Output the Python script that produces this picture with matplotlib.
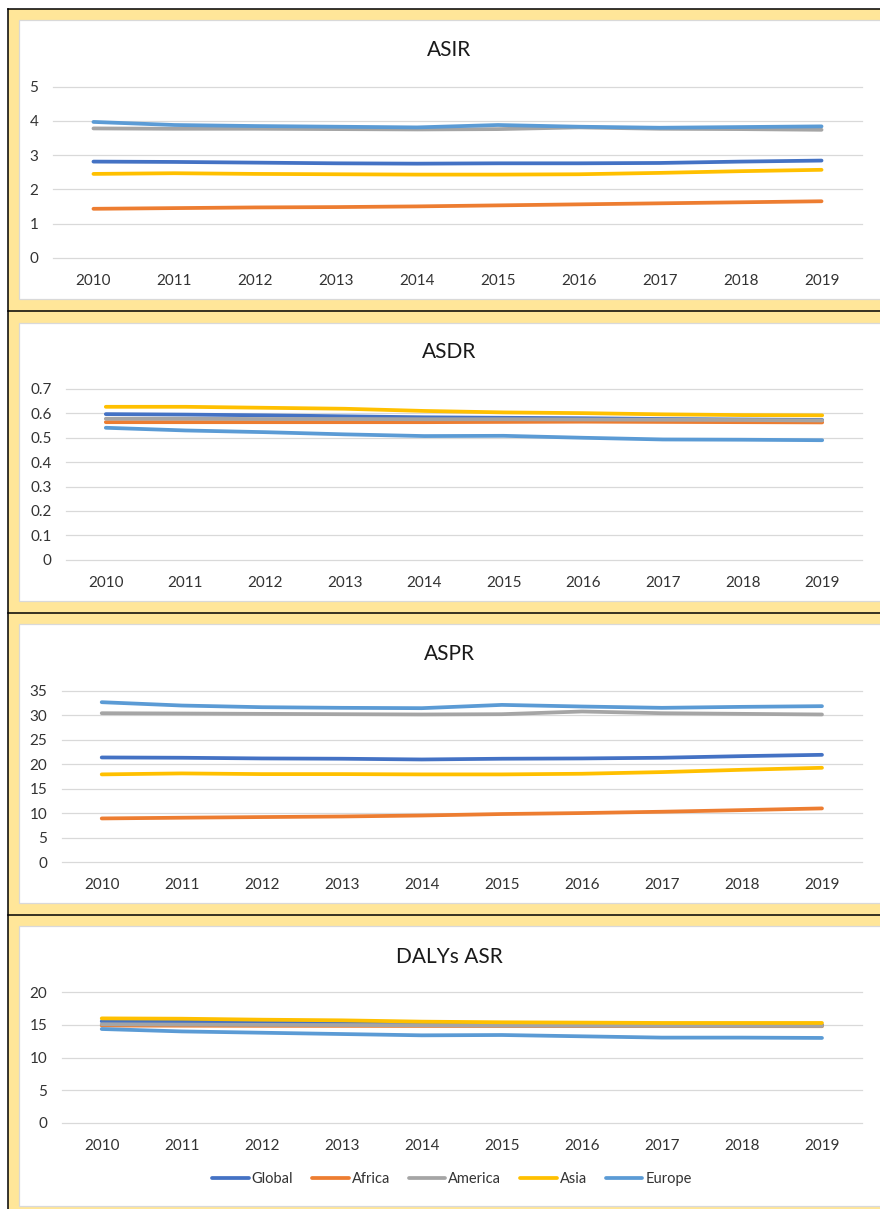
import matplotlib
matplotlib.use("Agg")
import matplotlib.pyplot as plt
from matplotlib.patches import Rectangle
from matplotlib.lines import Line2D
from matplotlib.ticker import FuncFormatter
import numpy as np

plt.rcParams['font.family'] = ['Lato', 'DejaVu Sans']

years = ["2010", "2011", "2012", "2013", "2014", "2015", "2016", "2017", "2018", "2019"]
regions = ["Global", "Africa", "America", "Asia", "Europe"]
colors = ["#4472C4", "#ED7D31", "#A5A5A5", "#FFC000", "#5B9BD5"]

asir_global = [2.81, 2.80, 2.78, 2.76, 2.75, 2.76, 2.76, 2.77, 2.81, 2.84]
asir_africa = [1.43, 1.45, 1.47, 1.48, 1.50, 1.53, 1.56, 1.59, 1.62, 1.65]
asir_america = [3.78, 3.77, 3.77, 3.76, 3.75, 3.76, 3.81, 3.77, 3.76, 3.74]
asir_asia = [2.45, 2.47, 2.45, 2.44, 2.43, 2.43, 2.44, 2.48, 2.53, 2.57]
asir_europe = [3.97, 3.88, 3.85, 3.83, 3.81, 3.88, 3.83, 3.80, 3.82, 3.84]

asdr_global = [0.597, 0.595, 0.592, 0.588, 0.584, 0.582, 0.580, 0.577, 0.575, 0.573]
asdr_africa = [0.564, 0.564, 0.564, 0.564, 0.564, 0.565, 0.566, 0.565, 0.564, 0.563]
asdr_america = [0.578, 0.578, 0.577, 0.577, 0.576, 0.576, 0.575, 0.574, 0.573, 0.571]
asdr_asia = [0.627, 0.627, 0.623, 0.619, 0.610, 0.604, 0.601, 0.596, 0.593, 0.592]
asdr_europe = [0.541, 0.530, 0.523, 0.514, 0.507, 0.508, 0.500, 0.493, 0.492, 0.490]

aspr_global = [21.36, 21.30, 21.16, 21.10, 20.95, 21.10, 21.16, 21.30, 21.63, 21.90]
aspr_africa = [8.90, 9.05, 9.18, 9.30, 9.50, 9.80, 10.00, 10.27, 10.60, 10.95]
aspr_america = [30.40, 30.34, 30.27, 30.20, 30.14, 30.20, 30.75, 30.40, 30.27, 30.14]
aspr_asia = [17.90, 18.10, 17.96, 17.96, 17.90, 17.90, 18.03, 18.37, 18.84, 19.25]
aspr_europe = [32.65, 31.97, 31.63, 31.50, 31.43, 32.10, 31.77, 31.50, 31.70, 31.84]

dalys_global = [15.55, 15.50, 15.45, 15.35, 15.25, 15.20, 15.15, 15.10, 15.05, 15.00]
dalys_africa = [14.90, 14.88, 14.86, 14.85, 14.84, 14.83, 14.82, 14.82, 14.81, 14.80]
dalys_america = [15.10, 15.05, 15.00, 14.98, 14.95, 14.90, 14.88, 14.86, 14.85, 14.83]
dalys_asia = [16.00, 15.95, 15.80, 15.70, 15.50, 15.40, 15.35, 15.30, 15.30, 15.30]
dalys_europe = [14.37, 14.00, 13.80, 13.60, 13.40, 13.45, 13.25, 13.05, 13.05, 13.00]

panels = [
    ("ASIR", [asir_global, asir_africa, asir_america, asir_asia, asir_europe], 5, 1),
    ("ASDR", [asdr_global, asdr_africa, asdr_america, asdr_asia, asdr_europe], 0.7, 0.1),
    ("ASPR", [aspr_global, aspr_africa, aspr_america, aspr_asia, aspr_europe], 35, 5),
    ("DALYs ASR", [dalys_global, dalys_africa, dalys_america, dalys_asia, dalys_europe], 20, 5),
]

W, H = 880, 1209
fig = plt.figure(figsize=(W / 100, H / 100), dpi=100)
fig.patch.set_facecolor("white")

def fx(x):
    return x / W

def fy(y):
    return 1 - y / H

# yellow frame with black separators
fig.add_artist(Rectangle((fx(8), fy(H + 5)), fx(W - 8 + 5), (H + 5 - 9) / H,
                         transform=fig.transFigure, facecolor="#FFE699",
                         edgecolor="none", zorder=0))
for y in [9, 311, 613, 915]:
    fig.add_artist(Line2D([fx(8), 1.01], [fy(y), fy(y)], transform=fig.transFigure,
                          color="black", lw=1.1, zorder=1))
fig.add_artist(Line2D([fx(8), fx(8)], [fy(9), fy(H + 5)], transform=fig.transFigure,
                      color="black", lw=1.1, zorder=1))

# white chart areas
chart_bounds = [(20, 299), (322.7, 601), (624, 903), (926, 1205.6)]
for top, bot in chart_bounds:
    fig.add_artist(Rectangle((fx(19), fy(bot)), fx(W + 5 - 19), (bot - top) / H,
                             transform=fig.transFigure, facecolor="white",
                             edgecolor="#D9D9D9", lw=0.9, zorder=1))

# plot areas: left px, top gridline px, zero gridline px
plot_boxes = [(53, 86.7, 257.7), (66, 389, 559.7), (61.7, 690.7, 862), (61.7, 992.3, 1122.7)]
title_y = [50, 352, 654, 956.7]
right_px = 862
text_color = "#333333"

x = list(range(len(years)))
handles = []
for (title, series, ymax, step), (lpx, tpx, bpx), ty in zip(panels, plot_boxes, title_y):
    ax = fig.add_axes([fx(lpx), fy(bpx), fx(right_px - lpx), (bpx - tpx) / H])
    ax.set_facecolor("none")
    ax.set_zorder(2)
    yt = np.round(np.arange(0, ymax + step / 2, step), 3)
    for v in yt:
        ax.axhline(v, color="#D9D9D9", lw=0.9, zorder=1, clip_on=False)
    handles = []
    for vals, name, c in zip(series, regions, colors):
        ln, = ax.plot(x, vals, color=c, lw=2.7, solid_capstyle="round",
                      solid_joinstyle="round", label=name, clip_on=False, zorder=3)
        handles.append(ln)
    ax.set_xlim(-0.5, len(years) - 0.5)
    ax.set_ylim(0, ymax)
    ax.set_yticks(yt)
    ax.yaxis.set_major_formatter(FuncFormatter(lambda v, p: f"{round(v, 3):g}"))
    ax.set_xticks(x)
    ax.set_xticklabels(years)
    for s in ax.spines.values():
        s.set_visible(False)
    ax.tick_params(axis="both", length=0, labelsize=11, colors=text_color)
    ax.tick_params(axis="y", pad=10.5)
    ax.tick_params(axis="x", pad=11.5)
    fig.text(fx(449.5), fy(ty), title, ha="center", va="center",
             fontsize=15, color="#1a1a1a")

fig.legend(handles, regions, loc="center", bbox_to_anchor=(fx(452), fy(1179)),
           ncol=5, frameon=False, fontsize=10.5, handlelength=2.5,
           handletextpad=0.2, columnspacing=1.3, labelcolor=text_color)

fig.savefig("out.png", dpi=100, facecolor=fig.get_facecolor())
